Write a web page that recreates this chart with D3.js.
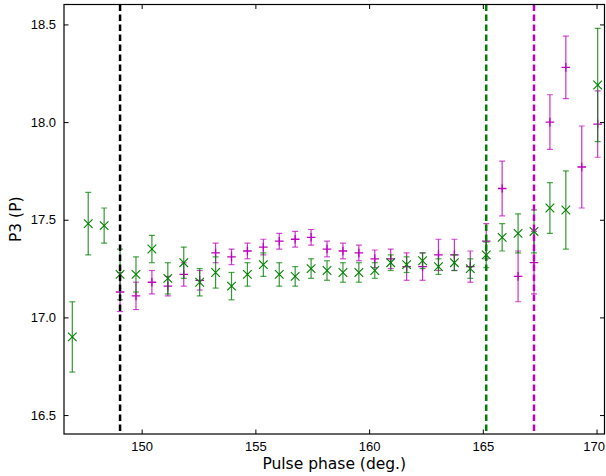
<!DOCTYPE html>
<html>
<head>
<meta charset="utf-8">
<script src="https://cdn.jsdelivr.net/npm/d3@7"></script>
<style>
  body { margin: 0; background: #fff; }
  svg { display: block; font-family: "DejaVu Sans", sans-serif; }
  .tick text { font-size: 13px; fill: #000; }
  .axis-label { font-size: 15.5px; fill: #000; }
</style>
</head>
<body>
<svg id="chart" width="606" height="476"></svg>
<script>
// Pulse phase (deg.) of each bin
const phase = [146.95, 147.65, 148.35, 149.05, 149.75, 150.45, 151.15, 151.85, 152.55, 153.25,
               153.95, 154.65, 155.35, 156.05, 156.75, 157.45, 158.15, 158.85, 159.55, 160.25,
               160.95, 161.65, 162.35, 163.05, 163.75, 164.45, 165.15, 165.85, 166.55, 167.25,
               167.95, 168.65, 169.35, 170.05];

// Green series (x markers), null = no measurement
const greenP3  = [16.90, 17.48, 17.47, 17.22, 17.22, 17.35, 17.20, 17.28, 17.18, 17.23,
                  17.16, 17.22, 17.27, 17.22, 17.21, 17.25, 17.24, 17.23, 17.23, 17.24,
                  17.28, 17.27, 17.29, 17.26, 17.28, 17.25, 17.32, 17.41, 17.43, 17.44,
                  17.56, 17.55, null, 18.19];
const greenErr = [0.18, 0.16, 0.09, 0.13, 0.09, 0.07, 0.08, 0.08, 0.07, 0.08,
                  0.07, 0.06, 0.06, 0.06, 0.05, 0.05, 0.05, 0.05, 0.05, 0.04,
                  0.04, 0.04, 0.04, 0.04, 0.04, 0.05, 0.065, 0.07, 0.10, 0.11,
                  0.13, 0.20, null, 0.29];

// Magenta series (+ markers)
const magentaP3  = [null, null, null, 17.13, 17.11, 17.18, 17.16, 17.22, 17.19, 17.33,
                    17.31, 17.34, 17.36, 17.39, 17.40, 17.41, 17.35, 17.34, 17.33, 17.30,
                    17.30, 17.26, 17.26, 17.32, 17.32, 17.26, 17.39, 17.66, 17.21, 17.28,
                    18.00, 18.28, 17.77, 17.99];
const magentaErr = [null, null, null, 0.10, 0.07, 0.06, 0.05, 0.06, 0.05, 0.05,
                    0.04, 0.04, 0.04, 0.04, 0.04, 0.04, 0.04, 0.04, 0.04, 0.045,
                    0.05, 0.07, 0.07, 0.08, 0.08, 0.08, 0.09, 0.14, 0.13, 0.16,
                    0.14, 0.16, 0.21, 0.17];

// Vertical dashed markers
const vlines = [
  { x: 149.05, color: "#000000" },
  { x: 165.15, color: "#008000" },
  { x: 167.25, color: "#bf00bf" }
];

const xTicks = [150, 155, 160, 165, 170];
const yTicks = [16.5, 17.0, 17.5, 18.0, 18.5];

const svg = d3.select("#chart");
const margin = { top: 4.5, right: 1.5, bottom: 42, left: 64 };
const width  = 606 - margin.left - margin.right;
const height = 476 - margin.top - margin.bottom;

const x = d3.scaleLinear().domain([146.585, 170.35]).range([0, width]);
const y = d3.scaleLinear().domain([16.403, 18.602]).range([height, 0]);

const g = svg.append("g").attr("transform", `translate(${margin.left},${margin.top})`);

g.append("defs").append("clipPath").attr("id", "clip")
  .append("rect").attr("width", width).attr("height", height);

const plot = g.append("g").attr("clip-path", "url(#clip)");

function buildSeries(vals, errs) {
  return phase.map((p, i) => ({ p, v: vals[i], e: errs[i] })).filter(d => d.v !== null);
}

function drawErrorbars(data, color, marker) {
  const s = plot.append("g");
  const pt = s.selectAll("g").data(data).enter().append("g")
      .attr("transform", d => `translate(${x(d.p)},0)`);
  pt.append("line")
      .attr("y1", d => y(d.v - d.e)).attr("y2", d => y(d.v + d.e))
      .attr("stroke", color).attr("stroke-opacity", 0.8).attr("stroke-width", 1.2);
  [-1, 1].forEach(sign => {
    pt.append("line")
        .attr("x1", -3).attr("x2", 3)
        .attr("y1", d => y(d.v + sign * d.e)).attr("y2", d => y(d.v + sign * d.e))
        .attr("stroke", color).attr("stroke-opacity", 0.7).attr("stroke-width", 1.2);
  });
  const r = 4.3;
  if (marker === "x") {
    pt.append("path")
        .attr("d", d => `M${-r},${y(d.v) - r}L${r},${y(d.v) + r}M${-r},${y(d.v) + r}L${r},${y(d.v) - r}`)
        .attr("stroke", color).attr("stroke-width", 1.1).attr("fill", "none");
  } else {
    pt.append("path")
        .attr("d", d => `M${-r},${y(d.v)}L${r},${y(d.v)}M0,${y(d.v) - r}L0,${y(d.v) + r}`)
        .attr("stroke", color).attr("stroke-width", 1.3).attr("fill", "none");
  }
}

drawErrorbars(buildSeries(magentaP3, magentaErr), "#bf00bf", "+");
drawErrorbars(buildSeries(greenP3, greenErr), "#008000", "x");

// Dashed vertical lines on top of the points
plot.selectAll(".vline").data(vlines).enter().append("line")
    .attr("class", "vline")
    .attr("x1", d => x(d.x)).attr("x2", d => x(d.x))
    .attr("y1", 0).attr("y2", height)
    .attr("stroke", d => d.color)
    .attr("stroke-width", 2.5)
    .attr("stroke-dasharray", "6.5,3.5");

// Axes, ticks pointing inward on all four sides
const tickLen = 4.5;
const fmtY = d3.format(".1f");
const xAxis = g.append("g").attr("transform", `translate(0,${height})`)
    .call(d3.axisBottom(x).tickValues(xTicks).tickSizeInner(-tickLen).tickSizeOuter(0).tickPadding(8));
const xAxisTop = g.append("g")
    .call(d3.axisTop(x).tickValues(xTicks).tickSizeInner(-tickLen).tickSizeOuter(0).tickFormat(""));
const yAxis = g.append("g")
    .call(d3.axisLeft(y).tickValues(yTicks).tickFormat(fmtY).tickSizeInner(-tickLen).tickSizeOuter(0).tickPadding(8));
const yAxisRight = g.append("g").attr("transform", `translate(${width},0)`)
    .call(d3.axisRight(y).tickValues(yTicks).tickSizeInner(-tickLen).tickSizeOuter(0).tickFormat(""));

[xAxis, xAxisTop, yAxis, yAxisRight].forEach(a => {
  a.select(".domain").remove();
  a.selectAll(".tick line").attr("stroke", "#000");
});

// last x label sits against the right edge, as in the reference
xAxis.selectAll(".tick text").filter(d => d === 170)
    .attr("text-anchor", "end").attr("x", 8);

// Frame
g.append("rect")
    .attr("width", width).attr("height", height)
    .attr("fill", "none").attr("stroke", "#000").attr("stroke-width", 1.2);

// Labels
svg.append("text").attr("class", "axis-label")
    .attr("x", margin.left + width / 2).attr("y", 469)
    .attr("text-anchor", "middle")
    .text("Pulse phase (deg.)");

svg.append("text").attr("class", "axis-label")
    .attr("transform", `translate(21,${margin.top + height / 2}) rotate(-90)`)
    .attr("text-anchor", "middle")
    .text("P3 (P)");
</script>
</body>
</html>
